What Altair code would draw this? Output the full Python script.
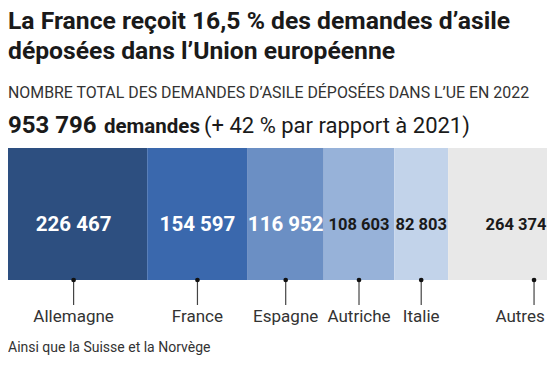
import altair as alt
import pandas as pd

# ---- data ----
countries = ["Allemagne", "France", "Espagne", "Autriche", "Italie", "Autres"]
values = [226467, 154597, 116952, 108603, 82803, 264374]
colors = ["#2d4f80", "#3a68ad", "#6b8fc4", "#97b2d9", "#c2d3ea", "#e8e8e8"]

title_lines = ["La France reçoit 16,5 % des demandes d’asile",
               "déposées dans l’Union européenne"]
subtitle = "NOMBRE TOTAL DES DEMANDES D’ASILE DÉPOSÉES DANS L’UE EN 2022"
unit_word = "demandes"
growth = "(+ 42 % par rapport à 2021)"
note = "Ainsi que la Suisse et la Norvège"


def fr(n):
    return f"{n:,}".replace(",", " ")


df = pd.DataFrame({"pays": countries, "valeur": values})
df["fin"] = df["valeur"].cumsum()
df["debut"] = df["fin"] - df["valeur"]
df["milieu"] = df["debut"] + df["valeur"] / 2
df["etiquette"] = df["valeur"].map(fr)
df["ordre"] = list(range(len(df)))
total_txt = fr(int(sum(values)))

FONT = "Roboto"
W, H = 539, 354
xscale = alt.Scale(domain=[0, 853846], range=[-8, 547], nice=False, zero=False)
X_MID = alt.X("milieu:Q", scale=xscale, axis=None)

one = pd.DataFrame({"k": [0]})

base = alt.Chart(df)

bars = base.mark_rect(clip=True).encode(
    x=alt.X("debut:Q", scale=xscale, axis=None),
    x2="fin:Q",
    y=alt.value(140),
    y2=alt.value(272),
    color=alt.Color("pays:N", scale=alt.Scale(domain=countries, range=colors), legend=None),
)

lab_white = base.mark_text(font=FONT, fontSize=20.5, fontWeight="bold", color="white",
                           baseline="alphabetic").encode(
    x=X_MID, y=alt.value(223), text="etiquette:N"
).transform_filter("datum.ordre < 3")

lab_dark = base.mark_text(font=FONT, fontSize=16.5, fontWeight="bold", color="#1a1a1a",
                          baseline="alphabetic").encode(
    x=X_MID, y=alt.value(222), text="etiquette:N"
).transform_filter("datum.ordre >= 3 && datum.ordre < 5")

lab_other = base.mark_text(font=FONT, fontSize=16.5, fontWeight="bold", color="#1a1a1a",
                           baseline="alphabetic", dx=-18).encode(
    x=X_MID, y=alt.value(222), text="etiquette:N"
).transform_filter("datum.ordre == 5")

ticks = base.mark_rule(color="#444", strokeWidth=1.2).encode(
    x=X_MID, y=alt.value(272), y2=alt.value(297)
)
dots = base.mark_point(filled=True, size=22, color="#111", opacity=1).encode(
    x=X_MID, y=alt.value(272)
)
cats = base.mark_text(font=FONT, fontSize=17, color="#333", baseline="alphabetic").encode(
    x=X_MID, y=alt.value(314), text="pays:N"
).transform_filter("datum.ordre < 5")

cat_last = base.mark_text(font=FONT, fontSize=17, color="#333", baseline="alphabetic",
                          dx=-14).encode(
    x=X_MID, y=alt.value(314), text="pays:N"
).transform_filter("datum.ordre == 5")


def heading(txt, x, y, size, weight="normal", color="#1a1a1a"):
    return alt.Chart(one).mark_text(font=FONT, fontSize=size, fontWeight=weight, color=color,
                                    align="left", baseline="alphabetic").encode(
        x=alt.value(x), y=alt.value(y), text=alt.value(txt))


heads = [
    heading(title_lines[0], 0, 21, 24.7, "bold"),
    heading(title_lines[1], 0, 51, 24.7, "bold"),
    heading(subtitle, 0, 90, 15.9, "normal", "#333"),
    heading(total_txt, 0, 125, 24, "bold"),
    heading(unit_word, 96, 125, 20.5, "bold"),
    heading(growth, 196, 125, 22, "normal"),
    heading(note, 0, 344, 14, "normal", "#333"),
]

chart = alt.layer(bars, lab_white, lab_dark, lab_other, ticks, dots, cats, cat_last,
                  *heads).properties(
    width=W, height=H, autosize=alt.AutoSizeParams(type="none"), padding=0,
    background="white"
).configure_view(stroke=None)

chart.save("out.html", embed_options={"renderer": "svg", "actions": False})
